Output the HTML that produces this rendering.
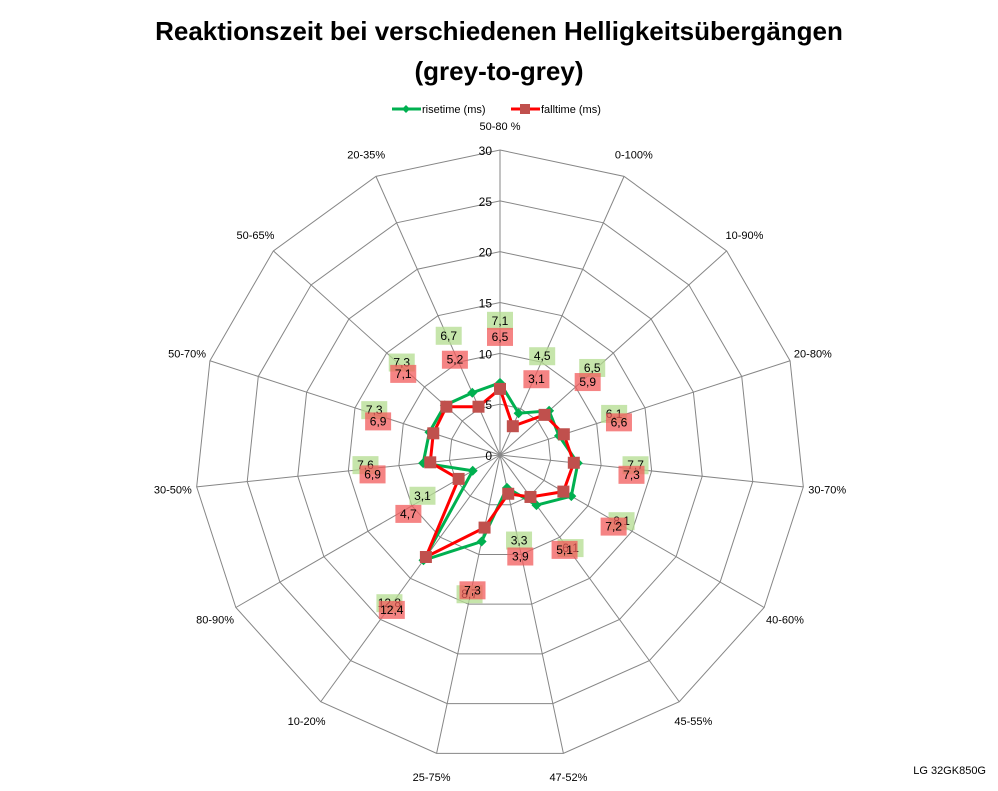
<!DOCTYPE html>
<html><head><meta charset="utf-8"><style>
body{margin:0;background:#fff;width:998px;height:786px;overflow:hidden;font-family:"Liberation Sans",sans-serif}
</style></head><body>
<svg width="998" height="786" xmlns="http://www.w3.org/2000/svg">
<text x="499" y="40" text-anchor="middle" font-size="26" font-weight="bold">Reaktionszeit bei verschiedenen Helligkeitsübergängen</text>
<text x="499" y="80" text-anchor="middle" font-size="26" font-weight="bold">(grey-to-grey)</text>
<g font-size="11">
<line x1="392" y1="109" x2="421" y2="109" stroke="#00b050" stroke-width="3"/>
<path d="M406,105 L410,109 L406,113 L402,109Z" fill="#00b050"/>
<text x="422" y="113">risetime (ms)</text>
<line x1="511" y1="109" x2="540" y2="109" stroke="#ff0000" stroke-width="3"/>
<rect x="520" y="104" width="10" height="10" fill="#c0504d"/>
<text x="541" y="113">falltime (ms)</text>
</g>
<g id="grid"></g><g id="series"></g><g id="labels"></g>
<text x="986" y="774" text-anchor="end" font-size="11">LG 32GK850G</text>
</svg>
<script>
const categories=["50-80 %","0-100%","10-90%","20-80%","30-70%","40-60%","45-55%","47-52%","25-75%","10-20%","80-90%","30-50%","50-70%","50-65%","20-35%"];
const risetime=[7.1,4.5,6.5,6.1,7.7,8.1,6.1,3.3,8.7,12.8,3.1,7.6,7.3,7.3,6.7];
const falltime=[6.5,3.1,5.9,6.6,7.3,7.2,5.1,3.9,7.3,12.4,4.7,6.9,6.9,7.1,5.2];
const ticks=[0,5,10,15,20,25,30];
const NS="http://www.w3.org/2000/svg";
const cx=500,cy=455,R=305,maxV=30,N=categories.length;
function ang(i){return -Math.PI/2+i*2*Math.PI/N;}
function pt(i,v){const r=v/maxV*R;return [cx+r*Math.cos(ang(i)),cy+r*Math.sin(ang(i))];}
function mk(t,a,p){const e=document.createElementNS(NS,t);for(const k in a)e.setAttribute(k,a[k]);p.appendChild(e);return e;}
const grid=document.getElementById('grid'),ser=document.getElementById('series'),lab=document.getElementById('labels');
ticks.slice(1).forEach(t=>{
 const e=mk('polygon',{points:categories.map((c,i)=>pt(i,t).join(',')).join(' '),fill:'none',stroke:'#868686','stroke-width':1},grid);
 
 
});
categories.forEach((c,i)=>{
 const p=pt(i,maxV);
 const l=mk('line',{x1:cx,y1:cy,x2:p[0],y2:p[1],stroke:'#868686','stroke-width':1},grid);
 
 
 const a=ang(i),r=R+24;
 const tx=mk('text',{x:cx+r*Math.cos(a),y:cy+r*Math.sin(a)+4,'text-anchor':'middle','font-size':11},lab);
 tx.textContent=c;
 
 
});
ticks.forEach(t=>{
 const p=pt(0,t);
 const tx=mk('text',{x:p[0]-8,y:p[1]+5,'text-anchor':'end','font-size':12},lab);
 tx.textContent=t;
 
 
});
function series(vals,col,mcol,square,name){
 const pl=mk('polygon',{points:vals.map((v,i)=>pt(i,v).join(',')).join(' '),fill:'none',stroke:col,'stroke-width':3},ser);
 
 
 vals.forEach((v,i)=>{
  const p=pt(i,v);let m;
  if(square)m=mk('rect',{x:p[0]-6,y:p[1]-6,width:12,height:12,fill:mcol},ser);
  else m=mk('path',{d:`M${p[0]},${p[1]-5}L${p[0]+5},${p[1]}L${p[0]},${p[1]+5}L${p[0]-5},${p[1]}Z`,fill:mcol},ser);
  
  
 });
}
series(risetime,'#00b050','#00b050',false,'risetime');
series(falltime,'#ff0000','#c0504d',true,'falltime');
function dlabels(vals,bg,dy,name){
 vals.forEach((v,i)=>{
  const a=ang(i),r=v/maxV*R+58;
  const x=cx+r*Math.cos(a),y=cy+r*Math.sin(a)+dy;
  const b=mk('rect',{x:x-13,y:y-9,width:26,height:18,fill:bg,opacity:0.75},lab);
  
  
  const t=mk('text',{x:x,y:y+4,'text-anchor':'middle','font-size':12},lab);
  t.textContent=String(v).replace('.',',');
  
  
 });
}
dlabels(risetime,'#b3dc8f',-4,'risetime');
dlabels(falltime,'#f25b5b',6,'falltime');
</script>
</body></html>
